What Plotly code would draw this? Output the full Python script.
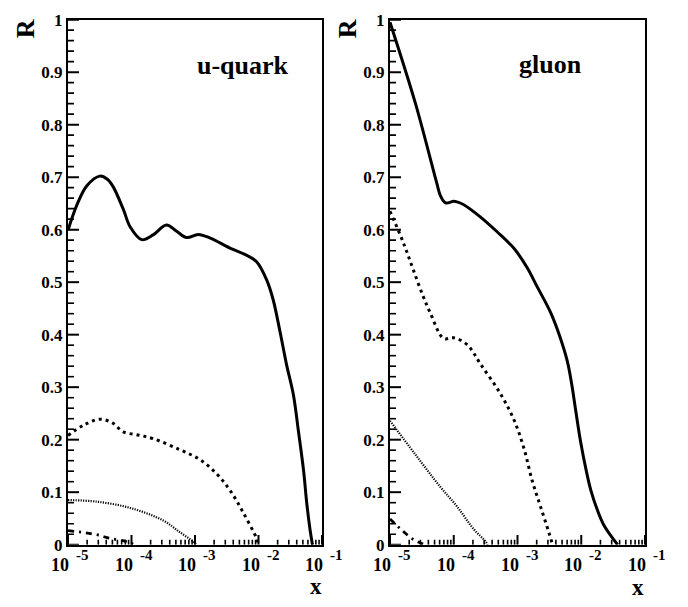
import plotly.graph_objects as go

# ---------------- data (x given as log10(x)) ----------------
u_solid_logx = [-5, -4.85, -4.70, -4.50, -4.38, -4.29, -4.13, -4.02, -3.84, -3.66, -3.45, -3.29,
                -3.13, -2.95, -2.76, -2.45, -2.20, -2.03, -1.87, -1.77, -1.66, -1.56, -1.45,
                -1.37, -1.29, -1.24, -1.19, -1.15]
u_solid_R = [0.599, 0.650, 0.684, 0.702, 0.696, 0.682, 0.639, 0.605, 0.581, 0.590, 0.609, 0.597,
             0.585, 0.591, 0.584, 0.565, 0.552, 0.539, 0.504, 0.467, 0.405, 0.344, 0.285,
             0.215, 0.141, 0.079, 0.030, 0.0]

u_dash_logx = [-5, -4.75, -4.50, -4.30, -4.13, -3.90, -3.66, -3.24, -2.92, -2.66, -2.45, -2.24, -2.03, -2.0]
u_dash_R = [0.208, 0.228, 0.239, 0.232, 0.215, 0.209, 0.202, 0.181, 0.162, 0.135, 0.104, 0.061, 0.012, 0.0]

u_dot_logx = [-5, -4.55, -4.02, -3.50, -3.24, -3.03, -2.98]
u_dot_R = [0.085, 0.082, 0.070, 0.046, 0.024, 0.006, 0.0]

u_dashdot_logx = [-5, -4.55, -4.34, -4.08, -3.95]
u_dashdot_R = [0.027, 0.019, 0.012, 0.006, 0.0]

g_solid_logx = [-5, -4.60, -4.265, -4.21, -4.13, -4.0, -3.95, -3.85, -3.58, -3.32, -3.06, -2.85,
                -2.69, -2.48, -2.34, -2.22, -2.15, -2.09, -2.01, -1.92, -1.85, -1.75, -1.64, -1.43]
g_solid_R = [0.995, 0.84, 0.688, 0.665, 0.651, 0.654, 0.653, 0.648, 0.624, 0.596, 0.565, 0.528,
             0.491, 0.442, 0.398, 0.35, 0.306, 0.258, 0.196, 0.140, 0.104, 0.067, 0.036, 0.0]

g_dash_logx = [-5, -4.84, -4.74, -4.63, -4.48, -4.37, -4.16, -4.0, -3.79, -3.58, -3.27, -3.06,
               -2.90, -2.77, -2.64, -2.51, -2.45]
g_dash_R = [0.635, 0.590, 0.559, 0.522, 0.473, 0.442, 0.393, 0.394, 0.381, 0.344, 0.288, 0.239,
            0.184, 0.122, 0.073, 0.024, 0.0]

g_dot_logx = [-5, -4.61, -4.21, -3.95, -3.69, -3.50, -3.47]
g_dot_R = [0.236, 0.173, 0.110, 0.073, 0.030, 0.006, 0.0]

g_dashdot_logx = [-5, -4.66, -4.5, -4.45]
g_dashdot_R = [0.049, 0.012, 0.002, 0.0]

decades = [-5, -4, -3, -2, -1]
minor_digits = [2, 3, 4, 5, 6, 7, 8, 9]
y_ticks = [0, 0.1, 0.2, 0.3, 0.4, 0.5, 0.6, 0.7, 0.8, 0.9, 1]
y_ticktext = ["0", "0.1", "0.2", "0.3", "0.4", "0.5", "0.6", "0.7", "0.8", "0.9", "1"]
panel_titles = ["u-quark", "gluon"]

# ---------------- figure ----------------
W, H = 688, 607
FONT = "Liberation Serif, Times New Roman, serif"

def fx(p):
    return p / W

def fy(p):
    return 1 - p / H

def px(v):
    return [10 ** a for a in v]

styles = {
    "solid": dict(width=3, dash="solid"),
    "dash": dict(width=3, dash="3px,4px"),
    "dot": dict(width=2.2, dash="1.2px,1.3px"),
    "dashdot": dict(width=2.8, dash="6px,5px,2px,5px"),
}

fig = go.Figure()
series = [
    ("x", "y", u_solid_logx, u_solid_R, "solid"),
    ("x", "y", u_dash_logx, u_dash_R, "dash"),
    ("x", "y", u_dot_logx, u_dot_R, "dot"),
    ("x", "y", u_dashdot_logx, u_dashdot_R, "dashdot"),
    ("x2", "y2", g_solid_logx, g_solid_R, "solid"),
    ("x2", "y2", g_dash_logx, g_dash_R, "dash"),
    ("x2", "y2", g_dot_logx, g_dot_R, "dot"),
    ("x2", "y2", g_dashdot_logx, g_dashdot_R, "dashdot"),
]
for xa, ya, lx, r, st in series:
    fig.add_trace(go.Scatter(
        x=px(lx), y=r, xaxis=xa, yaxis=ya, mode="lines",
        line=dict(color="black", shape="spline", smoothing=1.0, **styles[st]),
        showlegend=False, hoverinfo="skip"))

PANEL_H = 542.0
dom_x1 = [fx(68), fx(322)]
dom_x2 = [fx(390), fx(645)]
dom_y = [fy(553), fy(11)]

minor_vals = [k * 10 ** e for e in decades[:-1] for k in minor_digits]
y_minor_vals = [round(0.02 * i, 2) for i in range(51) if i % 5 != 0]

# ROOT-style tick marks pointing into each panel, drawn as line segments on the axes' scales
def ytick_segments(vals, length_px, px_per_decade):
    xs, ys = [], []
    for v in vals:
        xs += [1e-5, 10 ** (-5 + length_px / px_per_decade), None]
        ys += [v, v, None]
    return xs, ys

def xtick_segments(vals, length_px):
    xs, ys = [], []
    for v in vals:
        xs += [v, v, None]
        ys += [0, length_px / PANEL_H, None]
    return xs, ys

for xa, ya, ppd in [("x", "y", 254 / 4), ("x2", "y2", 255 / 4)]:
    for (xs, ys), wd in [(ytick_segments(y_ticks, 11, ppd), 2),
                         (ytick_segments(y_minor_vals, 6, ppd), 1.6),
                         (xtick_segments([10 ** d for d in decades], 10), 2),
                         (xtick_segments(minor_vals, 5), 1.6)]:
        fig.add_trace(go.Scatter(x=xs, y=ys, xaxis=xa, yaxis=ya, mode="lines",
                                 line=dict(color="black", width=wd), connectgaps=False,
                                 showlegend=False, hoverinfo="skip", cliponaxis=False))

def xaxis(dom, anchor):
    return dict(domain=dom, anchor=anchor, type="log", range=[-5, -1],
                tickmode="array", tickvals=[10 ** d for d in decades], showticklabels=False,
                ticks="", showline=True, linewidth=2, linecolor="black", mirror=True,
                showgrid=False, zeroline=False)

def yaxis(anchor):
    return dict(domain=dom_y, anchor=anchor, range=[0, 1],
                tickmode="array", tickvals=y_ticks, ticktext=y_ticktext,
                ticks="", showline=True, linewidth=2, linecolor="black", mirror=True,
                showgrid=False, zeroline=False,
                tickfont=dict(family=FONT, size=17, color="black", weight="bold"))

fig.update_layout(
    width=W, height=H, margin=dict(l=0, r=0, t=0, b=0, pad=0),
    paper_bgcolor="white", plot_bgcolor="white",
    xaxis=xaxis(dom_x1, "y"), yaxis=yaxis("x"),
    xaxis2=xaxis(dom_x2, "y2"), yaxis2=yaxis("x2"),
)

ann = []
bold = lambda s: dict(family=FONT, size=s, color="black", weight="bold")
for xr in ["x", "x2"]:
    for d in decades:
        ann.append(dict(x=d, xref=xr, y=fy(574), yref="paper", text="10", showarrow=False,
                        xanchor="right", yanchor="middle", xshift=3, font=bold(18)))
        ann.append(dict(x=d, xref=xr, y=fy(564), yref="paper", text="-%d" % (-d), showarrow=False,
                        xanchor="left", yanchor="middle", xshift=6, font=bold(15)))
ann.append(dict(x=fx(243), y=fy(58), xref="paper", yref="paper", text=panel_titles[0],
                showarrow=False, xanchor="center", yanchor="middle", font=bold(26)))
ann.append(dict(x=fx(550), y=fy(57), xref="paper", yref="paper", text=panel_titles[1],
                showarrow=False, xanchor="center", yanchor="middle", font=bold(26)))
for xc in [25, 347]:
    ann.append(dict(x=fx(xc), y=fy(21), xref="paper", yref="paper", text="R", textangle=-90,
                    showarrow=False, xanchor="center", yanchor="middle", font=bold(26)))
for xc, yc in [(316, 596), (638, 597)]:
    ann.append(dict(x=fx(xc), y=fy(yc), xref="paper", yref="paper", text="x",
                    showarrow=False, xanchor="center", yanchor="middle", font=bold(23)))
fig.update_layout(annotations=ann)

# remove the browser's default 8px body margin so the figure sits at the window origin
fig.write_html("out.html", config={"displayModeBar": False},
               post_script="document.body.style.margin='0px';")
